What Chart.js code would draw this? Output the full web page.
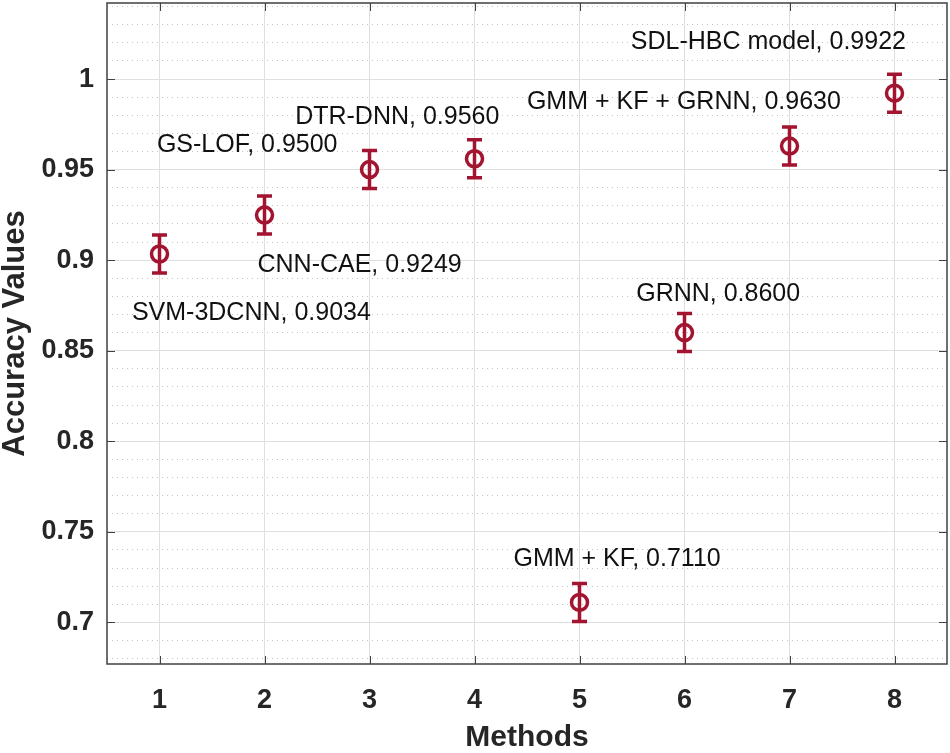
<!DOCTYPE html>
<html>
<head>
<meta charset="utf-8">
<title>Accuracy Values</title>
<script src="https://cdn.jsdelivr.net/npm/chart.js@4.4.1/dist/chart.umd.min.js"></script>
<style>
  html, body { margin: 0; padding: 0; background: #fff; }
  #wrap { width: 950px; height: 753px; }
</style>
</head>
<body>
<div id="wrap"><canvas id="chart"></canvas></div>
<script>
// values
const methods = [1, 2, 3, 4, 5, 6, 7, 8];
const accuracy = [0.9034, 0.9249, 0.9500, 0.9560, 0.7110, 0.8600, 0.9630, 0.9922];
const errors = [0.0105, 0.0105, 0.0105, 0.0105, 0.0105, 0.0105, 0.0105, 0.0105];
const yTicks = [0.7, 0.75, 0.8, 0.85, 0.9, 0.95, 1];
const labelTexts = [
    'SVM-3DCNN, 0.9034',
    'CNN-CAE, 0.9249',
    'GS-LOF, 0.9500',
    'DTR-DNN, 0.9560',
    'GMM + KF, 0.7110',
    'GRNN, 0.8600',
    'GMM + KF + GRNN, 0.9630',
    'SDL-HBC model, 0.9922'
];

// where each text annotation sits, in data units (like MATLAB text(x, y, ...))
const labelAnchorX = [0.737, 1.933, 0.975, 2.292, 4.371, 5.540, 4.499, 5.489];
const labelAnchorY = [0.8708, 0.8972, 0.9635, 0.9792, 0.7350, 0.8811, 0.9875, 1.0202];

const RED = '#A2142F';
const INK = '#262626';
const FONT = "'Liberation Sans', Arial, Helvetica, sans-serif";
const Y_MIN = 0.677, Y_MAX = 1.042;

Chart.defaults.font.family = FONT;

const errorBars = {
    id: 'errorBars',
    afterDatasetsDraw(chart) {
        const { ctx, scales: { x, y } } = chart;
        ctx.save();
        ctx.strokeStyle = RED;
        ctx.lineWidth = 3.5;
        methods.forEach((m, i) => {
            const px = x.getPixelForValue(m);
            const top = y.getPixelForValue(accuracy[i] + errors[i]);
            const bot = y.getPixelForValue(accuracy[i] - errors[i]);
            ctx.beginPath();
            ctx.moveTo(px, top); ctx.lineTo(px, bot);
            ctx.moveTo(px - 7.5, top); ctx.lineTo(px + 7.5, top);
            ctx.moveTo(px - 7.5, bot); ctx.lineTo(px + 7.5, bot);
            ctx.stroke();
        });
        ctx.restore();
    }
};

const annotations = {
    id: 'annotations',
    afterDatasetsDraw(chart) {
        const { ctx, scales: { x, y } } = chart;
        ctx.save();
        ctx.fillStyle = '#111';
        ctx.font = '25px ' + FONT;
        ctx.textAlign = 'left';
        ctx.textBaseline = 'middle';
        labelTexts.forEach((t, i) => {
            ctx.fillText(t, x.getPixelForValue(labelAnchorX[i]), y.getPixelForValue(labelAnchorY[i]));
        });
        ctx.restore();
    }
};

// MATLAB style box with inward tick marks on all four sides
const axesBox = {
    id: 'axesBox',
    afterDraw(chart) {
        const { ctx, chartArea: a, scales: { x, y } } = chart;
        const len = 8;
        ctx.save();
        ctx.strokeStyle = '#404040';
        ctx.lineWidth = 1;
        ctx.beginPath();
        x.ticks.forEach(t => {
            const px = Math.round(x.getPixelForValue(t.value)) + 0.5;
            ctx.moveTo(px, a.bottom); ctx.lineTo(px, a.bottom - len);
            ctx.moveTo(px, a.top); ctx.lineTo(px, a.top + len);
        });
        y.ticks.forEach(t => {
            const py = Math.round(y.getPixelForValue(t.value)) + 0.5;
            ctx.moveTo(a.left, py); ctx.lineTo(a.left + len, py);
            ctx.moveTo(a.right, py); ctx.lineTo(a.right - len, py);
        });
        ctx.stroke();
        ctx.lineWidth = 1.5;
        ctx.strokeRect(a.left, a.top, a.right - a.left, a.bottom - a.top);
        ctx.restore();
    }
};

new Chart(document.getElementById('chart'), {
    type: 'scatter',
    data: {
        datasets: [{
            label: 'Accuracy',
            data: methods.map((m, i) => ({ x: m, y: accuracy[i] })),
            pointStyle: 'circle',
            pointRadius: 8,
            pointHoverRadius: 8,
            pointBorderWidth: 3.5,
            pointHoverBorderWidth: 3.5,
            borderColor: RED,
            backgroundColor: 'rgba(0,0,0,0)'
        }]
    },
    options: {
        responsive: true,
        maintainAspectRatio: false,
        animation: false,
        layout: { autoPadding: false, padding: { top: 3, right: 3, left: 0, bottom: 0 } },
        plugins: {
            legend: { display: false },
            tooltip: { enabled: false }
        },
        scales: {
            x: {
                type: 'linear',
                min: 0.5,
                max: 8.5,
                ticks: {
                    padding: 20,
                    color: INK,
                    font: { size: 27, weight: 'bold' }
                },
                grid: { color: '#dfdfdf', drawTicks: false },
                border: { display: false },
                title: {
                    display: true,
                    text: 'Methods',
                    color: INK,
                    font: { size: 30, weight: 'bold', lineHeight: 1 },
                    padding: { top: 0, bottom: 0 }
                },
                afterBuildTicks: s => { s.ticks = methods.map(v => ({ value: v })); },
                afterFit: s => {
                    s.height = 89;
                    s.paddingLeft = 0;
                    s.paddingRight = 0;
                }
            },
            y: {
                type: 'linear',
                min: Y_MIN,
                max: Y_MAX,
                ticks: {
                    padding: 13,
                    color: INK,
                    font: { size: 27, weight: 'bold' },
                    callback: v => String(+v.toFixed(2))
                },
                grid: { color: '#dfdfdf', drawTicks: false },
                border: { display: false },
                title: {
                    display: true,
                    text: 'Accuracy Values',
                    color: INK,
                    font: { size: 31, weight: 'bold', lineHeight: 1 },
                    padding: { top: 0, bottom: 0 }
                },
                afterBuildTicks: s => { s.ticks = yTicks.map(v => ({ value: v })); },
                afterFit: s => {
                    s.width = 107;
                    s.paddingTop = 0;
                    s.paddingBottom = 0;
                }
            },
            yMinor: {
                type: 'linear',
                position: 'right',
                min: Y_MIN,
                max: Y_MAX,
                z: -1,
                ticks: { display: false, stepSize: 0.01, includeBounds: false },
                grid: {
                    drawTicks: false,
                    color: c => {
                        const v = Math.round(c.tick.value * 100);
                        return v % 5 === 0 ? 'rgba(0,0,0,0)' : '#c4c4c4';
                    }
                },
                border: { display: false, dash: [1, 4] },
                afterFit: s => {
                    s.width = 0;
                    s.paddingTop = 0;
                    s.paddingBottom = 0;
                }
            }
        }
    },
    plugins: [errorBars, annotations, axesBox]
});
</script>
</body>
</html>
